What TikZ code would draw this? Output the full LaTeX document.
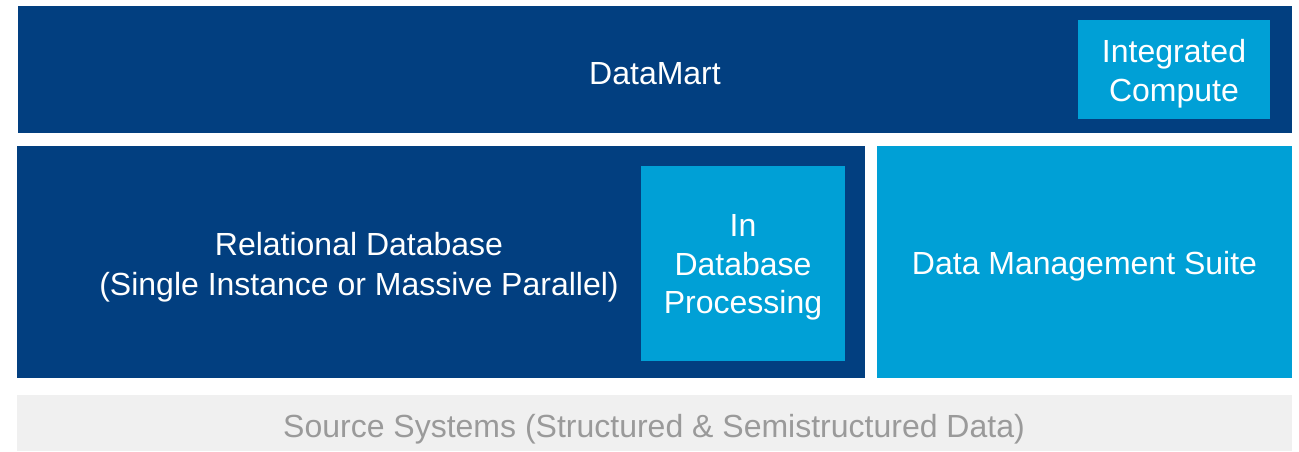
\documentclass[tikz,border=0pt]{standalone}
\usepackage{fontspec}
\setmainfont{Liberation Sans}
\definecolor{navy}{HTML}{023F80}
\definecolor{sky}{HTML}{00A0D6}
\definecolor{paleGray}{HTML}{F0F0F0}
\definecolor{labelGray}{HTML}{9A9A9A}
\begin{document}
\begin{tikzpicture}[x=1pt,y=-1pt,
  block/.style={anchor=north west,inner sep=0pt,outer sep=0pt,draw=none},
  lbl/.style={font=\fontsize{32}{38.5}\selectfont,align=center,text=white,inner sep=0pt,yshift=-4pt}]
\useasboundingbox (0,0) rectangle (1299,451);
% layers
\node[block,fill=navy,minimum width=1274pt,minimum height=127pt] (mart) at (18,6) {};
\node[block,fill=sky,minimum width=192pt,minimum height=99pt] (compute) at (1078,20) {};
\node[block,fill=navy,minimum width=848pt,minimum height=232pt] (rdb) at (17,146) {};
\node[block,fill=sky,minimum width=204pt,minimum height=195pt] (indb) at (641,166) {};
\node[block,fill=sky,minimum width=415pt,minimum height=232pt] (dms) at (877,146) {};
\node[block,fill=paleGray,minimum width=1275pt,minimum height=56pt] (src) at (17,395) {};
% labels
\node[lbl] (martT) at (655,70) {DataMart};
\node[lbl] (computeT) at (compute.center) {Integrated\\Compute};
\node[lbl,font=\fontsize{32}{40}\selectfont] (rdbT) at (359,263) {Relational Database\\(Single Instance or Massive Parallel)};
\node[lbl] (indbT) at (indb.center) {In\\Database\\Processing};
\node[lbl] (dmsT) at (dms.center) {Data Management Suite};
\node[lbl,text=labelGray] (srcT) at (654,425) {Source Systems (Structured \& Semistructured Data)};
\end{tikzpicture}
\end{document}
